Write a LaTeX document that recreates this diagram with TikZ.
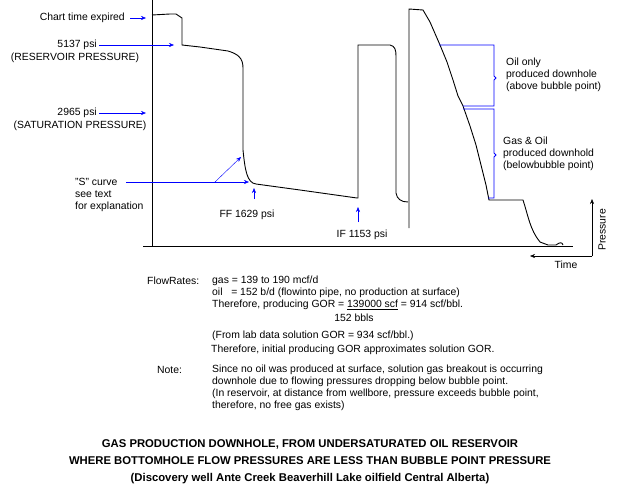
\documentclass[tikz,border=0pt]{standalone}
\usepackage{fontspec}
\setmainfont{Liberation Sans}
\usetikzlibrary{arrows.meta}
\begin{document}
\begin{tikzpicture}[x=1pt,y=-1pt,
  txt/.style={font=\fontsize{10.4}{12.2}\selectfont,inner sep=0pt},
  barrow/.style={draw=blue,-{Stealth[length=5pt,width=4pt]}},
  curve/.style={draw=black,line width=0.9pt},
  brace/.style={draw=blue,line width=0.9pt}]
\useasboundingbox (0,0) rectangle (618,498);
% axes
\draw[line width=0.9pt] (152,0) -- (152,246);
\draw[line width=0.9pt] (143,246) -- (573,246);
% trace
\draw[curve] (152,15) -- (170,14) -- (176,14) -- (182,18) -- (182,45) -- (200,47) -- (228,51)
  .. controls (238,54) and (243,58) .. (243,68) -- (243,150)
  .. controls (245,170) and (247,183) .. (256,184) -- (300,190) -- (357,198)
  -- (358,198) -- (358,45) -- (390,45) .. controls (395,46) and (396,50) .. (396,56)
  -- (396,193) .. controls (397,199) and (401,202) .. (408,202);
\draw[curve] (409,228) -- (409,9) -- (423,10) -- (430,22) -- (440,45) -- (447,62)
  -- (453,80) -- (458,96) -- (463,106) -- (470,126) -- (476,145) -- (481,165) -- (486,185) -- (489,200)
  -- (523,200) .. controls (528,215) and (530,230) .. (540,242) -- (548,245) -- (556,245)
  .. controls (560,242) and (562,242) .. (563,245);
% left labels
\node[txt,anchor=east] (cte) at (125,18) {Chart time expired};
\draw[barrow] (130,18) -- (146,18);
\node[txt,anchor=east] (p5137) at (97,45) {5137 psi};
\node[txt] (res) at (75,58) {(RESERVOIR PRESSURE)};
\draw[barrow] (99,45) -- (174,45);
\node[txt,anchor=east] (p2965) at (97,113) {2965 psi};
\node[txt] (sat) at (80,126) {(SATURATION PRESSURE)};
\draw[barrow] (99,113) -- (146,113);
\node[txt,anchor=west,align=left] (scurve) at (75,195) {"S" curve\\see text\\for explanation};
\coordinate (sa) at (126,182);
\coordinate (sb) at (215,182);
\draw[barrow] (sa) -- (249,182);
\draw[barrow] (sb) -- (241,157);
\draw[barrow] (254,199) -- (254,188);
\node[txt] (ff) at (247,215) {FF 1629 psi};
\draw[barrow] (358,222) -- (358,207);
\node[txt] (if) at (362,235) {IF 1153 psi};
% braces
\draw[brace] (439,45) -- (494,45) -- (494,76) -- (496,78) -- (494,80) -- (494,106) -- (463,106);
\draw[brace] (463,109) -- (494,109) -- (494,153) -- (496,155) -- (494,157) -- (494,198) -- (488,198);
\node[txt,anchor=west,align=left] (oil) at (506,75) {Oil only\\produced downhole\\(above bubble point)};
\node[txt,anchor=west,align=left] (gas) at (503,154) {Gas \& Oil\\produced downhold\\(belowbubble point)};
% pressure/time
\coordinate (corner) at (592,256);
\draw[-{Stealth[length=5pt,width=4pt]}] (corner) -- (592,199);
\draw[-{Stealth[length=5pt,width=4pt]}] (corner) -- (530,256);
\node[txt,rotate=90] (pr) at (602,230) {Pressure};
\node[txt] (time) at (566,265) {Time};
% bottom text
\node[txt,anchor=west] (fr) at (147,281) {FlowRates:};
\node[txt,anchor=west] (l1) at (212,281) {gas = 139 to 190 mcf/d};
\node[txt,anchor=west] (l2) at (212,293) {oil\ \ \ = 152 b/d (flowinto pipe, no production at surface)};
\node[txt,anchor=west] (l3) at (212,305) {Therefore, producing GOR = \underline{139000 scf} = 914 scf/bbl.};
\node[txt] (l4) at (354,318) {152 bbls};
\node[txt,anchor=west] (l5) at (212,336) {(From lab data solution GOR = 934 scf/bbl.)};
\node[txt,anchor=west] (l6) at (211,350) {Therefore, initial producing GOR approximates solution GOR.};
\node[txt,anchor=west] (note) at (157,370) {Note:};
\node[txt,anchor=west,align=left] (nt) at (212,388) {Since no oil was produced at surface, solution gas breakout is occurring\\downhole due to flowing pressures dropping below bubble point.\\(In reservoir, at distance from wellbore, pressure exceeds bubble point,\\therefore, no free gas exists)};
\node[font=\bfseries\fontsize{11.3}{17}\selectfont,align=center,inner sep=0pt] (title) at (310,462)
 {GAS PRODUCTION DOWNHOLE, FROM UNDERSATURATED OIL RESERVOIR\\WHERE BOTTOMHOLE FLOW PRESSURES ARE LESS THAN BUBBLE POINT PRESSURE\\(Discovery well Ante Creek Beaverhill Lake oilfield Central Alberta)};
\end{tikzpicture}
\end{document}
